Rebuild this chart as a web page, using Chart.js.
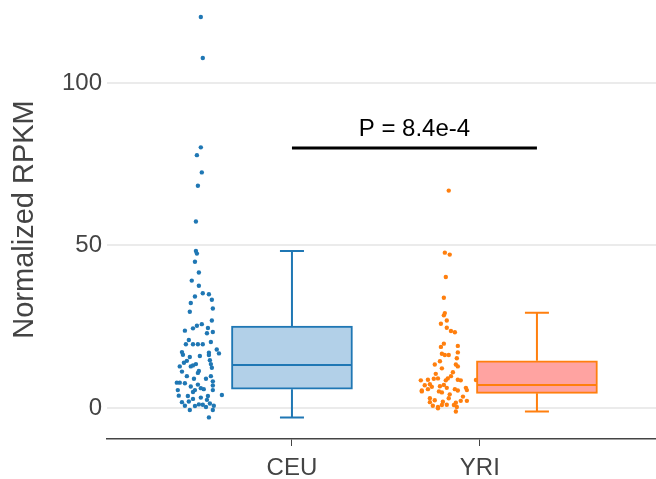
<!DOCTYPE html>
<html>
<head>
<meta charset="utf-8">
<script src="https://cdn.jsdelivr.net/npm/chart.js@4.4.1/dist/chart.umd.min.js"></script>
<style>
  html, body { margin: 0; padding: 0; background: #fff; }
  #wrap { width: 656px; height: 479px; position: relative; }
</style>
</head>
<body>
<div id="wrap"><canvas id="grafica"></canvas></div>
<script>
// groups and box statistics
const categories = ['CEU', 'YRI'];
const whiskerLow  = [-2.9, -1.1];
const q1          = [5.8, 4.5];
const median      = [13.2, 7.1];
const q3          = [25.2, 14.5];
const whiskerHigh = [48.3, 29.3];

// raw points, with their horizontal jitter (in category units)
const ceuValues = [120.3, 107.7, 80.2, 77.8, 72.5, 68.4, 57.4, 48.3, 47.5, 45.0,
  41.7, 39.2, 37.6, 35.3, 35.0, 34.3, 33.3, 32.3, 30.6, 29.6,
  26.9, 25.8, 25.3, 24.5, 24.6, 23.8, 23.4, 23.0, 20.9, 20.3,
  19.6, 19.6, 19.6, 19.6, 17.2, 16.4, 15.7, 16.0, 17.0, 16.3,
  18.0, 16.8, 14.7, 13.9, 12.8, 12.8, 13.1, 13.5, 13.5, 12.4,
  11.4, 10.8, 11.2, 9.8, 9.0, 9.0, 9.8, 8.2, 7.8, 7.8,
  7.6, 7.2, 6.6, 6.1, 5.8, 5.5, 6.9, 5.5, 5.5, 4.9,
  3.8, 4.0, 3.7, 3.7, 2.8, 2.5, 1.8, 1.1, 1.0, 1.4,
  0.7, 0.6, 0.7, -0.6, -0.6, -2.9, 0.3, 2.0, 3.2, 14.5];
const ceuJitter = [0.008, 0.016, 0.008, -0.008, 0.012, -0.004, -0.012, -0.012, -0.008, -0.016,
  0, -0.029, 0, 0.016, 0.041, -0.016, 0.053, -0.033, 0.057, -0.037,
  0.053, 0.012, -0.008, -0.024, 0.037, -0.057, 0.057, 0.033, -0.041, 0.049,
  -0.053, -0.024, -0.004, 0.016, -0.069, -0.065, -0.037, 0.004, 0.041, 0.041,
  0.073, 0.082, 0.045, -0.061, -0.078, -0.033, -0.024, -0.012, 0.049, 0.053,
  0, -0.004, -0.069, -0.049, -0.020, 0.029, 0.049, 0.057, -0.090, -0.078,
  -0.057, -0.004, -0.033, 0.008, 0.020, -0.016, 0.057, 0.057, -0.086, -0.024,
  -0.082, 0.094, 0.037, -0.045, -0.024, 0.033, -0.069, 0, 0.016, 0.045,
  -0.057, -0.016, 0.061, -0.037, 0.057, 0.041, 0.029, -0.041, 0.008, -0.049];

const yriValues = [66.9, 47.8, 47.2, 40.3, 33.9, 29.2, 28.5, 25.9, 26.9, 24.7,
  23.7, 23.3, 19.8, 18.8, 19.1, 16.7, 16.3, 16.3, 17.1, 15.3,
  14.4, 13.4, 13.4, 12.8, 12.2, 9.8, 9.1, 8.5, 8.7, 9.0,
  9.1, 8.5, 8.7, 8.5, 7.3, 6.7, 7.1, 6.2, 5.8, 6.2,
  5.5, 5.4, 5.8, 5.1, 4.8, 4.2, 5.4, 3.0, 2.4, 1.9,
  1.0, 1.6, 2.2, 2.2, 0.7, 0.3, 0.9, 0.9, 0.3, -1.1,
  8.6, 5.1, 1.8, -0.1, 10.5, 11.0, 6.5, 3.0, 7.0, 3.5];
const yriJitter = [0.020, 0.004, 0.024, 0.008, 0, 0.004, 0, -0.012, 0.012, 0.012,
  0.029, 0.045, 0, -0.012, 0.057, -0.008, 0.004, 0.020, 0.057, 0.053,
  -0.016, -0.037, 0.049, 0.057, -0.008, 0.029, 0.016, -0.094, -0.065, -0.041,
  -0.024, 0.008, 0.057, 0.069, -0.057, -0.016, 0, 0.012, 0.045, 0.090,
  0.094, -0.090, -0.065, -0.020, -0.008, 0.024, 0.057, -0.057, -0.037, -0.004,
  0.012, 0.049, 0.069, 0.094, -0.045, -0.024, -0.008, 0.041, 0.053, 0.049,
  0.131, -0.090, -0.057, -0.024, -0.033, 0.037, -0.049, 0.020, -0.078, 0.078];

const pValueText = 'P = 8.4e-4';
const pValueLevel = 80;

// layout on the x axis (category units)
const boxPos = [1, 2];
const labelPos = [1, 1.767];
const pointShift = -0.38;
const capHalf = 0.049;
const medianHalf = 0.243;

const strokeColors = ['#1f77b4', '#ff7f0e'];
const fillColors = ['#b2d0e8', '#ffa3a1'];

function whiskerData(i) {
  const c = boxPos[i];
  return [
    {x: c, y: q3[i]}, {x: c, y: whiskerHigh[i]}, {x: c, y: NaN},
    {x: c - capHalf, y: whiskerHigh[i]}, {x: c + capHalf, y: whiskerHigh[i]}, {x: c, y: NaN},
    {x: c, y: q1[i]}, {x: c, y: whiskerLow[i]}, {x: c, y: NaN},
    {x: c - capHalf, y: whiskerLow[i]}, {x: c + capHalf, y: whiskerLow[i]}, {x: c, y: NaN},
    {x: c - medianHalf, y: median[i]}, {x: c + medianHalf, y: median[i]}
  ];
}

function pointData(values, jitter, i) {
  return values.map((v, k) => ({x: boxPos[i] + pointShift + jitter[k], y: v}));
}

var datasets = [];

// whiskers + medians on top
categories.forEach((cat, i) => {
  datasets.push({
    type: 'line',
    label: cat + ' whiskers',
    data: whiskerData(i),
    borderColor: strokeColors[i],
    borderWidth: 2,
    pointRadius: 0,
    spanGaps: false,
    fill: false
  });
});

// bracket for the p value
datasets.push({
  type: 'line',
  label: 'p bracket',
  data: [{x: boxPos[0], y: pValueLevel}, {x: boxPos[1], y: pValueLevel}],
  borderColor: '#000',
  borderWidth: 3,
  pointRadius: 0,
  fill: false
});

// jittered points
[ceuValues, yriValues].forEach((vals, i) => {
  var jit = i === 0 ? ceuJitter : yriJitter;
  datasets.push({
    type: 'scatter',
    label: categories[i] + ' points',
    data: pointData(vals, jit, i),
    pointRadius: 2.2,
    pointBorderWidth: 0,
    pointBackgroundColor: strokeColors[i],
    showLine: false
  });
});

// boxes (floating bars q1..q3)
categories.forEach((cat, i) => {
  datasets.push({
    type: 'bar',
    label: cat,
    data: [{x: boxPos[i], y: [q1[i], q3[i]]}],
    backgroundColor: fillColors[i],
    borderColor: strokeColors[i],
    borderWidth: 2,
    borderSkipped: false,
    barThickness: 121,
    grouped: false
  });
});

const pLabel = {
  id: 'pLabel',
  afterDatasetsDraw(chart) {
    const {ctx, scales: {x, y}} = chart;
    const px = x.getPixelForValue((boxPos[0] + boxPos[1]) / 2);
    const py = y.getPixelForValue(pValueLevel) - 19;
    ctx.save();
    ctx.font = '24px "Liberation Sans", Arial, sans-serif';
    ctx.fillStyle = '#000';
    ctx.textAlign = 'center';
    ctx.textBaseline = 'middle';
    ctx.fillText(pValueText, px, py);
    ctx.restore();
  }
};

const tickFont = {family: '"Liberation Sans", Arial, sans-serif', size: 24};

new Chart(document.getElementById('grafica').getContext('2d'), {
  type: 'scatter',
  data: {datasets: datasets},
  options: {
    responsive: true,
    maintainAspectRatio: false,
    animation: false,
    events: [],
    layout: {padding: 0, autoPadding: false},
    plugins: {legend: {display: false}, tooltip: {enabled: false}},
    scales: {
      x: {
        type: 'linear',
        min: 0.245,
        max: 2.486,
        offset: false,
        afterBuildTicks: function(scale) {
          scale.ticks = labelPos.map(v => ({value: v}));
        },
        afterFit: function(scale) {
          scale.height = 40;
          scale.paddingLeft = 0;
          scale.paddingRight = 0;
        },
        ticks: {
          font: tickFont,
          color: '#444',
          padding: 8,
          callback: function(value, index) { return categories[index]; }
        },
        grid: {offset: false, drawOnChartArea: false, drawTicks: true, tickLength: 7, color: '#444', lineWidth: 1},
        border: {display: true, color: '#444', width: 1.5}
      },
      y: {
        type: 'linear',
        min: -9.54,
        max: 125.54,
        afterBuildTicks: function(scale) {
          scale.ticks = [0, 50, 100].map(v => ({value: v}));
        },
        afterFit: function(scale) {
          scale.width = 107;
          scale.paddingTop = 0;
          scale.paddingBottom = 0;
        },
        ticks: {font: tickFont, color: '#444', padding: 5},
        grid: {color: '#ebebeb', lineWidth: 2, drawTicks: false},
        border: {display: false},
        title: {
          display: true,
          text: 'Normalized RPKM',
          color: '#444',
          font: {family: '"Liberation Sans", Arial, sans-serif', size: 29},
          padding: {top: 8, bottom: 0}
        }
      }
    }
  },
  plugins: [pLabel]
});
</script>
</body>
</html>
